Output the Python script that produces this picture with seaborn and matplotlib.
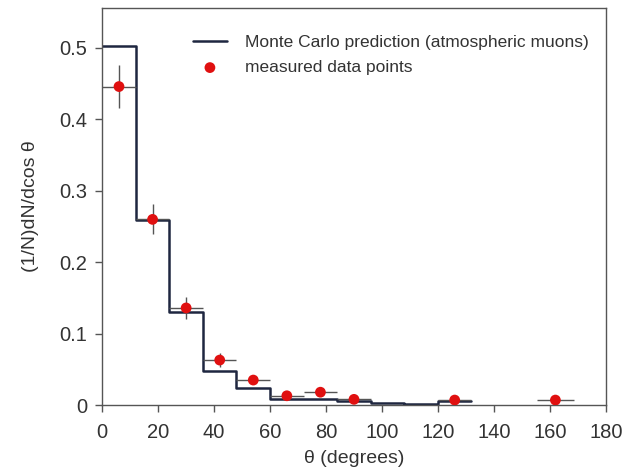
import matplotlib
matplotlib.use("Agg")
import matplotlib.pyplot as plt
import seaborn as sns
import numpy as np
import pandas as pd

# Monte Carlo histogram (bin edges in degrees, one value per bin)
bin_edges = [0, 12, 24, 36, 48, 60, 72, 84, 96, 108, 120, 132]
mc_values = [0.503, 0.259, 0.131, 0.048, 0.024, 0.009, 0.009, 0.006, 0.003, 0.001, 0.005]

# measured data points
theta = [6, 18, 30, 42, 54, 66, 78, 90, 126, 162]
dn = [0.446, 0.260, 0.136, 0.063, 0.035, 0.013, 0.018, 0.008, 0.007, 0.007]
dn_err = [0.030, 0.021, 0.015, 0.010, 0.006, 0.004, 0.004, 0.003, 0.003, 0.003]
theta_err = [6, 6, 6, 6, 6, 6, 6, 6, 6, 6.5]

sns.set_theme(style="white")
plt.rcParams['font.family'] = ['Liberation Sans', 'DejaVu Sans']

grey = "#555555"
fig = plt.figure(figsize=(6.31, 4.71), dpi=100)
ax = fig.add_axes([0.162, 0.140, 0.798, 0.843])

mc_df = pd.DataFrame({"theta": bin_edges, "value": mc_values + [mc_values[-1]]})
sns.lineplot(data=mc_df, x="theta", y="value", drawstyle="steps-post",
             color="#1e2640", lw=1.8, ax=ax, label="Monte Carlo prediction (atmospheric muons)")

ax.errorbar(theta, dn, xerr=theta_err, yerr=dn_err, fmt="none",
            ecolor=grey, elinewidth=1.0, zorder=3)
pts = pd.DataFrame({"theta": theta, "dn": dn})
sns.scatterplot(data=pts, x="theta", y="dn", color="#e01010", s=60,
                edgecolor="none", ax=ax, zorder=4, label="measured data points")

ax.set_xlim(0, 180)
ax.set_ylim(0, 0.556)
ax.set_xticks(range(0, 181, 20))
ax.set_yticks([0, 0.1, 0.2, 0.3, 0.4, 0.5])
ax.set_yticklabels(["0", "0.1", "0.2", "0.3", "0.4", "0.5"])
ax.set_xlabel("θ (degrees)", fontsize=14, color="#333333", labelpad=6)
ax.set_ylabel("(1/N)dN/dcos θ", fontsize=14, color="#333333", labelpad=14)
ax.tick_params(axis="both", labelsize=14.5, labelcolor="#333333", color=grey,
               direction="out", length=5, width=1, bottom=True, left=True)
ax.tick_params(axis="x", pad=8)
ax.tick_params(axis="y", pad=6)
for sp in ax.spines.values():
    sp.set_color(grey)
    sp.set_linewidth(1.0)

leg = ax.legend(loc="upper right", frameon=False, fontsize=12.5,
                handlelength=2.0, handletextpad=1.0, borderaxespad=0.6,
                labelspacing=0.55, bbox_to_anchor=(1.0, 0.975))
for t in leg.get_texts():
    t.set_color("#333333")

fig.savefig("out.png", dpi=100)
